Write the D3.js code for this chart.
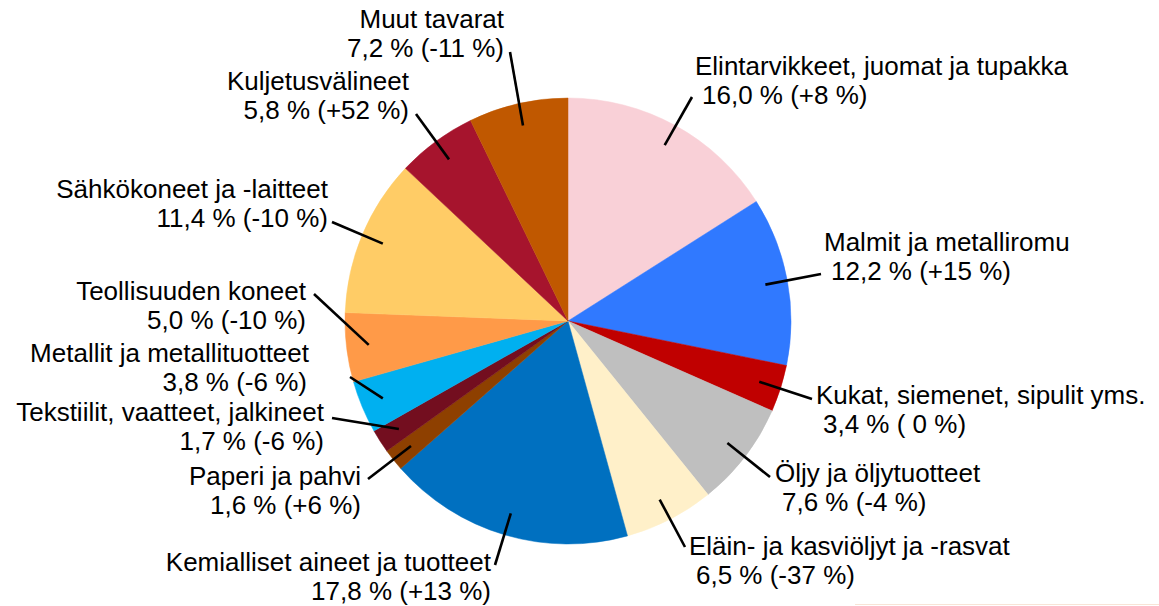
<!DOCTYPE html>
<html>
<head>
<meta charset="utf-8">
<script src="https://cdn.jsdelivr.net/npm/d3@7"></script>
<style>
  html, body { margin: 0; padding: 0; background: #fff; }
  svg { display: block; }
  text { font-family: "Liberation Sans", Arial, sans-serif; fill: #000; }
</style>
</head>
<body>
<svg id="chart" width="1159" height="606"></svg>
<script>
// tavararyhmät, osuus % ja muutos %
var categories = [
  "Elintarvikkeet, juomat ja tupakka",
  "Malmit ja metalliromu",
  "Kukat, siemenet, sipulit yms.",
  "Öljy ja öljytuotteet",
  "Eläin- ja kasviöljyt ja -rasvat",
  "Kemialliset aineet ja tuotteet",
  "Paperi ja pahvi",
  "Tekstiilit, vaatteet, jalkineet",
  "Metallit ja metallituotteet",
  "Teollisuuden koneet",
  "Sähkökoneet ja -laitteet",
  "Kuljetusvälineet",
  "Muut tavarat"
];
var shares = [16.0, 12.2, 3.4, 7.6, 6.5, 17.8, 1.6, 1.7, 3.8, 5.0, 11.4, 5.8, 7.2];
var changes = [8, 15, 0, -4, -37, 13, 6, -6, -6, -10, -10, 52, -11];

var colors = ["#F9D0D7", "#3079FF", "#C00000", "#BFBFBF", "#FFF0C9", "#0070C0",
  "#8E4000", "#730E1F", "#00B0F0", "#FF9A48", "#FFCC66", "#A6142D", "#C05800"];

// label placement: leader line end, text x, first baseline, anchor, 2nd line x shift
var labelLayout = [
  [692, 97, 695, 75, "start", 7],
  [821, 274, 824, 251, "start", 7],
  [812, 399, 816, 404, "start", 7],
  [770, 477, 775, 482, "start", 7],
  [685, 547, 689, 555, "start", 7],
  [495, 565, 491, 571, "end", 0],
  [368, 479, 361, 485, "end", 0],
  [332, 418, 324, 421, "end", 0],
  [350, 377, 309, 362, "end", -2],
  [314, 294, 306, 300, "end", 0],
  [332, 222, 328, 198, "end", 0],
  [416, 114, 409, 90, "end", 0],
  [510, 52, 504, 28, "end", 0]
];

var cx = 568, cy = 321, radius = 223;
var fmt = function(v) { return v.toFixed(1).replace(".", ","); };
var fmtChange = function(v) { return v > 0 ? "+" + v : (v == 0 ? " 0" : String(v)); };

var data = categories.map(function(c, i) {
  return { name: c, share: shares[i], change: changes[i], color: colors[i], layout: labelLayout[i] };
});

var svg = d3.select("#chart");
var g = svg.append("g").attr("transform", "translate(" + cx + "," + cy + ")");

var pie = d3.pie().sort(null).value(function(d) { return d.share; });
var arc = d3.arc().innerRadius(0).outerRadius(radius);
var inner = d3.arc().innerRadius(radius * 0.9).outerRadius(radius * 0.9);
var arcs = pie(data);

g.selectAll("path.slice")
  .data(arcs)
  .join("path")
  .attr("class", "slice")
  .attr("d", arc)
  .attr("fill", function(d) { return d.data.color; })
  .attr("stroke", function(d) { return d.data.color; })
  .attr("stroke-width", 0.5);

// leader lines
g.selectAll("line.leader")
  .data(arcs)
  .join("line")
  .attr("class", "leader")
  .attr("x1", function(d) { return inner.centroid(d)[0]; })
  .attr("y1", function(d) { return inner.centroid(d)[1]; })
  .attr("x2", function(d) { return d.data.layout[0] - cx; })
  .attr("y2", function(d) { return d.data.layout[1] - cy; })
  .attr("stroke", "#000")
  .attr("stroke-width", 2.6);

var labels = svg.append("g")
  .attr("font-size", 26)
  .selectAll("text")
  .data(data)
  .join("text")
  .attr("text-anchor", function(d) { return d.layout[4]; });

labels.append("tspan")
  .attr("x", function(d) { return d.layout[2]; })
  .attr("y", function(d) { return d.layout[3]; })
  .text(function(d) { return d.name; });

labels.append("tspan")
  .attr("x", function(d) { return d.layout[2] + d.layout[5]; })
  .attr("y", function(d) { return d.layout[3] + 29; })
  .attr("xml:space", "preserve")
  .style("white-space", "pre")
  .text(function(d) { return fmt(d.share) + " % (" + fmtChange(d.change) + " %)"; });

// faint border fragment bottom right
svg.append("line")
  .attr("x1", 855).attr("x2", 1159)
  .attr("y1", 604.5).attr("y2", 604.5)
  .attr("stroke", "#F8E4D6")
  .attr("stroke-width", 1);
</script>
</body>
</html>
